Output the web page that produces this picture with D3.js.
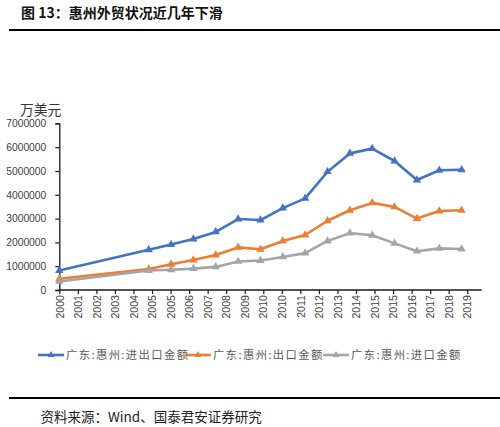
<!DOCTYPE html>
<html><head><meta charset="utf-8">
<script src="https://cdn.jsdelivr.net/npm/d3@7"></script>
<style>
html,body{margin:0;padding:0;background:#fff;}
svg{display:block;}
</style></head>
<body>
<svg id="chart" width="500" height="427"></svg>
<script>
// ---- data ----
const years = [2000, 2004, 2005, 2006, 2007, 2008, 2009, 2010, 2011, 2012, 2013, 2014, 2015, 2016, 2017, 2018];
const totalTrade = [820000, 1690000, 1910000, 2140000, 2440000, 2980000, 2940000, 3440000, 3850000, 4970000, 5740000, 5940000, 5420000, 4620000, 5030000, 5050000];
const exportsVal = [470000, 880000, 1080000, 1260000, 1470000, 1790000, 1710000, 2060000, 2310000, 2910000, 3350000, 3660000, 3490000, 3000000, 3320000, 3350000];
const importsVal = [360000, 820000, 850000, 900000, 970000, 1200000, 1240000, 1390000, 1550000, 2060000, 2390000, 2300000, 1960000, 1630000, 1750000, 1720000];
const seriesNames = ["广东:惠州:进出口金额", "广东:惠州:出口金额", "广东:惠州:进口金额"];
const seriesColors = ["#4472C4", "#ED7D31", "#A5A5A5"];
const yTicks = [0, 1000000, 2000000, 3000000, 4000000, 5000000, 6000000, 7000000];
const titleText = "图 13：惠州外贸状况近几年下滑";
const yUnit = "万美元";
const sourceText = "资料来源：Wind、国泰君安证券研究";

// ---- layout ----
const svg = d3.select("#chart");
const x0 = 59.3, x1 = 481.7, yTop = 123.4, yBot = 290;
const tickStepDays = 303, tickCount = 23, domainDays = 6902;
const start = new Date(years[0], 11, 31);
const x = d3.scaleTime().domain([start, d3.timeDay.offset(start, domainDays)]).range([x0, x1]);
const y = d3.scaleLinear().domain([0, 7000000]).range([yBot, yTop]);
const dateOf = yr => new Date(yr, 11, 31);
const tickDates = d3.range(tickCount).map(k => d3.timeDay.offset(start, k * tickStepDays));

// title
svg.append("text").attr("x", 21).attr("y", 18).attr("font-family", "Noto Sans CJK SC")
  .attr("font-size", 14).attr("font-weight", "bold").attr("fill", "#111").text(titleText);
svg.append("line").attr("x1", 9).attr("x2", 500).attr("y1", 30).attr("y2", 30)
  .attr("stroke", "#000").attr("stroke-width", 2.2);

// unit
svg.append("text").attr("x", 20).attr("y", 115).attr("font-family", "Noto Sans CJK SC")
  .attr("font-size", 13.8).attr("fill", "#333").text(yUnit);

// y axis
const yAxis = svg.append("g").attr("transform", `translate(${x0},0)`)
  .call(d3.axisLeft(y).tickValues(yTicks).tickSize(4).tickPadding(9).tickFormat(d3.format("d")));
yAxis.select(".domain").attr("stroke", "#1a1a1a").attr("stroke-width", 1.3);
yAxis.selectAll(".tick line").attr("stroke", "#1a1a1a").attr("stroke-width", 1.2);
yAxis.selectAll(".tick text").attr("font-family", "Liberation Sans").attr("font-size", 10.3).attr("fill", "#404040");

// x axis
const xAxis = svg.append("g").attr("transform", `translate(0,${yBot})`)
  .call(d3.axisBottom(x).tickValues(tickDates).tickSize(4).tickFormat(d3.timeFormat("%Y")));
xAxis.select(".domain").attr("stroke", "#1a1a1a").attr("stroke-width", 1.3).attr("d", `M${x0},0H${x1}`);
xAxis.selectAll(".tick line").attr("stroke", "#1a1a1a").attr("stroke-width", 1.2);
xAxis.selectAll(".tick text").attr("font-family", "Liberation Sans").attr("font-size", 10.6).attr("fill", "#404040")
  .attr("transform", "rotate(-90)").attr("text-anchor", "end").attr("dx", "-5").attr("dy", "0.35em").attr("x", 0).attr("y", 0);

// series
const allSeries = [totalTrade, exportsVal, importsVal];
const line = d3.line().x(d => x(dateOf(d.yr))).y(d => y(d.v));
const tri = d3.symbol(d3.symbolTriangle).size(30);
allSeries.forEach((vals, i) => {
  const pts = years.map((yr, j) => ({yr, v: vals[j]}));
  const g = svg.append("g");
  g.append("path").datum(pts).attr("d", line).attr("fill", "none")
    .attr("stroke", seriesColors[i]).attr("stroke-width", 2.6).attr("stroke-linejoin", "round");
  g.selectAll("path.m").data(pts).join("path").attr("class", "m")
    .attr("transform", d => `translate(${x(dateOf(d.yr))},${y(d.v)})`)
    .attr("d", tri).attr("fill", seriesColors[i]);
});

// legend
const legendX = [38, 185, 323];
seriesNames.forEach((name, i) => {
  const g = svg.append("g").attr("transform", `translate(${legendX[i]},355)`);
  g.append("line").attr("x1", 0).attr("x2", 26).attr("stroke", seriesColors[i]).attr("stroke-width", 2.6);
  g.append("path").attr("transform", "translate(13,0)").attr("d", d3.symbol(d3.symbolTriangle).size(20)).attr("fill", seriesColors[i]);
  g.append("text").attr("x", 28).attr("y", 4).attr("font-family", "Noto Sans CJK SC")
    .attr("font-size", 11.3).attr("letter-spacing", 1.4).attr("fill", "#595959").text(name);
});

// bottom rule and source
svg.append("line").attr("x1", 9).attr("x2", 500).attr("y1", 398).attr("y2", 398)
  .attr("stroke", "#000").attr("stroke-width", 2.2);
svg.append("text").attr("x", 40.5).attr("y", 422).attr("font-family", "Noto Sans CJK SC")
  .attr("font-size", 13.5).attr("fill", "#222").text(sourceText);
</script>
</body></html>
